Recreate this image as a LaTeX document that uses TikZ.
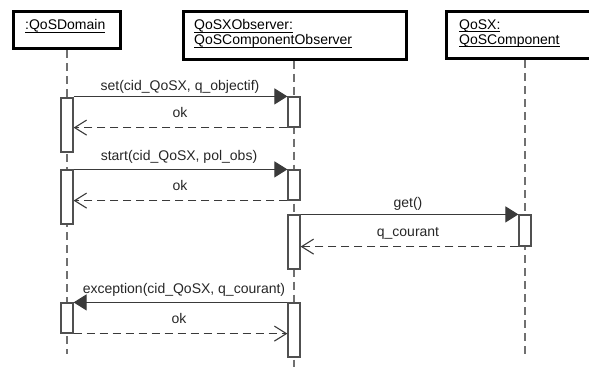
\documentclass[tikz,border=0pt]{standalone}
\usepackage{fontspec}
\setmainfont{Liberation Sans}
\usetikzlibrary{arrows.meta}
\definecolor{msgc}{HTML}{3A3A3A}
\definecolor{lifec}{HTML}{707070}
\definecolor{actc}{HTML}{505050}
\newcommand\myul[1]{\setbox0\hbox{#1}\rlap{\copy0}\rule[-2.8pt]{\wd0}{0.7pt}}
\tikzset{
  objbox/.style={draw=black, line width=3pt, fill=white},
  objtext/.style={anchor=base west, inner sep=0pt, font=\fontsize{14}{15}\selectfont},
  lifeline/.style={draw=lifec, line width=1.2pt, dash pattern=on 8pt off 5pt},
  actbox/.style={draw=actc, line width=1.2pt, fill=white, rectangle, minimum width=12pt, inner sep=0pt},
  callmsg/.style={draw=msgc, line width=1.1pt, -{Triangle[length=13pt,width=16pt]}},
  retmsg/.style={draw=msgc, line width=1.1pt, dash pattern=on 8pt off 5pt, -{Straight Barb[length=12pt,width=15pt,line width=1.1pt]}},
  msglabel/.style={anchor=base, inner sep=0pt, font=\fontsize{14}{15}\selectfont, text=black!85}
}
\begin{document}
\begin{tikzpicture}[x=1pt,y=-1pt]
\useasboundingbox (0,0) rectangle (589,367);
\clip (0,0) rectangle (589,367);
% object boxes
\draw[objbox] (13.5,11.5) rectangle (120.5,48.5);
\draw[objbox] (183.5,11.5) rectangle (406,59);
\draw[objbox] (446.5,11.5) rectangle (600,58.5);
\node[objtext] (tdom) at (25,29.5) {\myul{:QoSDomain}};
\node[objtext] (tobs1) at (194,29.5) {\myul{QoSXObserver:}};
\node[objtext] (tobs2) at (194,44.5) {\myul{QoSComponentObserver}};
\node[objtext] (tq1) at (459,29) {\myul{QoSX:}};
\node[objtext] (tq2) at (459,44) {\myul{QoSComponent}};
% lifelines
\coordinate (dtop) at (67,50);
\coordinate (dbot) at (67,354);
\coordinate (otop) at (294,60.5);
\coordinate (obot) at (294,367);
\coordinate (qtop) at (525,60);
\coordinate (qbot) at (525,354);
\draw[lifeline] (dtop) -- (dbot);
\draw[lifeline] (otop) -- (obot);
\draw[lifeline] (qtop) -- (qbot);
% activations
\node[actbox, minimum height=54pt] (d1) at (67,125) {};
\node[actbox, minimum height=54pt] (d2) at (67,197) {};
\node[actbox, minimum height=30pt] (d3) at (67,318) {};
\node[actbox, minimum height=30pt] (o1) at (294,112) {};
\node[actbox, minimum height=30pt] (o2) at (294,185) {};
\node[actbox, minimum height=54pt] (o3) at (294,242) {};
\node[actbox, minimum height=54pt] (o4) at (294,330) {};
\node[actbox, minimum height=31pt] (q1) at (525,230.5) {};
% messages
\draw[callmsg] (o1.north west -| d1.east) -- (o1.north west);
\node[msglabel] (l1) at (180,90) {set(cid\_QoSX, q\_objectif)};
\draw[retmsg] (o1.south west) -- (o1.south west -| d1.east);
\node[msglabel] (l2) at (180,117) {ok};
\draw[callmsg] (d2.north east) -- (d2.north east -| o2.west);
\node[msglabel] (l3) at (179,160.5) {start(cid\_QoSX, pol\_obs)};
\draw[retmsg] (o2.south west) -- (o2.south west -| d2.east);
\node[msglabel] (l4) at (180,190.5) {ok};
\draw[callmsg] (o3.north east) -- (o3.north east -| q1.west);
\node[msglabel] (l5) at (408,207) {get()};
\draw[retmsg] (q1.south west) -- (q1.south west -| o3.east);
\node[msglabel] (l6) at (408,236.5) {q\_courant};
\draw[callmsg] (o4.north west) -- (o4.north west -| d3.east);
\node[msglabel] (l7) at (184,293.5) {exception(cid\_QoSX, q\_courant)};
\draw[retmsg] (d3.south east) -- (d3.south east -| o4.west);
\node[msglabel] (l8) at (179,323) {ok};
\end{tikzpicture}
\end{document}
